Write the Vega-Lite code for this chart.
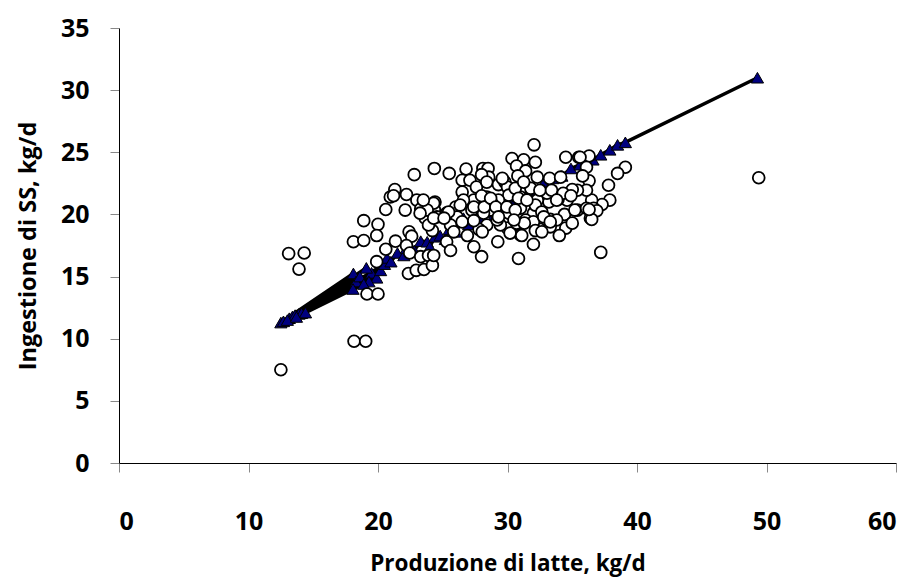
{
  "$schema": "https://vega.github.io/schema/vega-lite/v6.json",
  "width": 777,
  "height": 435,
  "autosize": "none",
  "padding": {"left": 119, "top": 28, "right": 19, "bottom": 118},
  "background": "white",
  "config": {
    "view": {"stroke": null},
    "axis": {"grid": false, "domainColor": "black", "domainWidth": 1, "tickColor": "#888888", "tickSize": 9, "labelFont": "Open Sans", "labelFontWeight": "bold", "labelFontSize": 25, "labelColor": "black", "titleFont": "Open Sans", "titleFontWeight": "bold", "titleColor": "black"}
  },
  "datasets": {
    "obs": [
      {"latte": 12.5, "ss": 7.5}, {"latte": 18.15, "ss": 9.8}, {"latte": 19.05, "ss": 9.8},
      {"latte": 13.1, "ss": 16.85}, {"latte": 14.3, "ss": 16.9}, {"latte": 13.9, "ss": 15.6},
      {"latte": 18.1, "ss": 17.8}, {"latte": 18.9, "ss": 17.9}, {"latte": 18.9, "ss": 19.5},
      {"latte": 20.0, "ss": 19.2}, {"latte": 19.9, "ss": 18.3}, {"latte": 20.6, "ss": 20.4},
      {"latte": 20.95, "ss": 21.4}, {"latte": 20.6, "ss": 17.2}, {"latte": 19.9, "ss": 16.2},
      {"latte": 19.15, "ss": 13.6}, {"latte": 20.0, "ss": 13.6}, {"latte": 21.3, "ss": 22.0},
      {"latte": 22.2, "ss": 21.6}, {"latte": 21.2, "ss": 21.5}, {"latte": 22.8, "ss": 23.2},
      {"latte": 24.35, "ss": 23.7}, {"latte": 23.0, "ss": 21.15}, {"latte": 22.1, "ss": 20.35},
      {"latte": 23.3, "ss": 20.45}, {"latte": 24.4, "ss": 21.0}, {"latte": 24.35, "ss": 20.4},
      {"latte": 23.9, "ss": 19.7}, {"latte": 22.4, "ss": 18.6}, {"latte": 22.6, "ss": 18.25},
      {"latte": 21.35, "ss": 17.85}, {"latte": 22.2, "ss": 17.5}, {"latte": 22.45, "ss": 16.9},
      {"latte": 23.3, "ss": 16.6}, {"latte": 23.9, "ss": 16.7}, {"latte": 22.35, "ss": 15.25},
      {"latte": 22.95, "ss": 15.5}, {"latte": 23.55, "ss": 15.57}, {"latte": 24.2, "ss": 15.9},
      {"latte": 24.2, "ss": 18.7}, {"latte": 24.3, "ss": 16.7}, {"latte": 23.65, "ss": 19.7},
      {"latte": 24.3, "ss": 20.9}, {"latte": 23.8, "ss": 20.35}, {"latte": 23.5, "ss": 21.15},
      {"latte": 23.9, "ss": 19.15}, {"latte": 25.5, "ss": 23.3}, {"latte": 26.8, "ss": 23.65},
      {"latte": 28.1, "ss": 23.7}, {"latte": 28.5, "ss": 23.7}, {"latte": 28.55, "ss": 23.0},
      {"latte": 28.0, "ss": 23.2}, {"latte": 26.5, "ss": 22.75}, {"latte": 27.1, "ss": 22.75},
      {"latte": 26.5, "ss": 21.8}, {"latte": 27.6, "ss": 22.2}, {"latte": 28.4, "ss": 22.6},
      {"latte": 29.3, "ss": 22.4}, {"latte": 29.8, "ss": 22.6}, {"latte": 30.0, "ss": 22.2},
      {"latte": 30.35, "ss": 24.5}, {"latte": 31.25, "ss": 24.4}, {"latte": 32.05, "ss": 25.6},
      {"latte": 32.15, "ss": 24.2}, {"latte": 30.7, "ss": 23.9}, {"latte": 31.4, "ss": 23.5},
      {"latte": 30.8, "ss": 23.1}, {"latte": 32.3, "ss": 23.0}, {"latte": 33.25, "ss": 22.9},
      {"latte": 34.1, "ss": 23.0}, {"latte": 34.5, "ss": 24.6}, {"latte": 35.5, "ss": 24.6},
      {"latte": 36.3, "ss": 24.7}, {"latte": 36.1, "ss": 23.8}, {"latte": 36.3, "ss": 22.7},
      {"latte": 37.8, "ss": 22.35}, {"latte": 37.9, "ss": 21.15}, {"latte": 37.3, "ss": 20.8},
      {"latte": 36.5, "ss": 21.15}, {"latte": 36.1, "ss": 21.95}, {"latte": 35.4, "ss": 21.95},
      {"latte": 35.0, "ss": 22.0}, {"latte": 34.6, "ss": 21.15}, {"latte": 33.9, "ss": 21.2},
      {"latte": 33.2, "ss": 21.0}, {"latte": 33.05, "ss": 21.7}, {"latte": 32.3, "ss": 21.15},
      {"latte": 32.0, "ss": 20.1}, {"latte": 33.3, "ss": 19.6}, {"latte": 32.5, "ss": 18.8},
      {"latte": 34.4, "ss": 20.0}, {"latte": 35.4, "ss": 20.35}, {"latte": 36.4, "ss": 19.7},
      {"latte": 36.1, "ss": 20.5}, {"latte": 31.0, "ss": 21.4}, {"latte": 31.0, "ss": 20.5},
      {"latte": 31.4, "ss": 19.55}, {"latte": 30.9, "ss": 19.15}, {"latte": 31.0, "ss": 18.35},
      {"latte": 32.0, "ss": 17.6}, {"latte": 30.85, "ss": 16.45}, {"latte": 30.0, "ss": 18.9},
      {"latte": 29.45, "ss": 19.15}, {"latte": 30.1, "ss": 20.1}, {"latte": 30.1, "ss": 21.55},
      {"latte": 29.3, "ss": 21.15}, {"latte": 28.8, "ss": 20.9}, {"latte": 28.4, "ss": 21.4},
      {"latte": 28.7, "ss": 20.35}, {"latte": 28.15, "ss": 20.1}, {"latte": 28.4, "ss": 19.15},
      {"latte": 27.8, "ss": 18.8}, {"latte": 28.05, "ss": 18.6}, {"latte": 29.25, "ss": 17.8},
      {"latte": 27.4, "ss": 17.4}, {"latte": 28.0, "ss": 16.6}, {"latte": 27.25, "ss": 20.35},
      {"latte": 27.4, "ss": 21.15}, {"latte": 26.6, "ss": 21.15}, {"latte": 26.0, "ss": 20.6},
      {"latte": 25.3, "ss": 20.1}, {"latte": 26.1, "ss": 19.8}, {"latte": 25.6, "ss": 19.15},
      {"latte": 25.85, "ss": 18.6}, {"latte": 25.3, "ss": 17.8}, {"latte": 25.6, "ss": 17.1},
      {"latte": 29.2, "ss": 19.55}, {"latte": 30.2, "ss": 18.5}, {"latte": 37.2, "ss": 16.95},
      {"latte": 31.8, "ss": 22.1}, {"latte": 32.5, "ss": 21.95}, {"latte": 33.4, "ss": 21.95},
      {"latte": 39.1, "ss": 23.8}, {"latte": 38.5, "ss": 23.3}, {"latte": 36.65, "ss": 20.5},
      {"latte": 36.9, "ss": 20.3}, {"latte": 36.5, "ss": 19.6}, {"latte": 34.3, "ss": 21.7},
      {"latte": 33.8, "ss": 21.15}, {"latte": 35.2, "ss": 20.35}, {"latte": 33.8, "ss": 19.55},
      {"latte": 32.15, "ss": 20.75}, {"latte": 32.65, "ss": 20.2}, {"latte": 30.6, "ss": 22.1},
      {"latte": 31.25, "ss": 22.6}, {"latte": 30.85, "ss": 21.3}, {"latte": 31.5, "ss": 21.15},
      {"latte": 32.0, "ss": 19.4}, {"latte": 32.8, "ss": 19.8}, {"latte": 33.3, "ss": 19.0},
      {"latte": 31.1, "ss": 18.3}, {"latte": 32.15, "ss": 18.7}, {"latte": 32.65, "ss": 18.6},
      {"latte": 30.7, "ss": 19.3}, {"latte": 31.3, "ss": 19.3}, {"latte": 33.3, "ss": 19.4},
      {"latte": 49.4, "ss": 22.95}, {"latte": 36.3, "ss": 20.4}, {"latte": 35.6, "ss": 24.6},
      {"latte": 23.25, "ss": 20.1}, {"latte": 24.55, "ss": 19.8}, {"latte": 25.45, "ss": 20.2},
      {"latte": 26.35, "ss": 20.75}, {"latte": 27.4, "ss": 20.6}, {"latte": 28.2, "ss": 20.6},
      {"latte": 28.0, "ss": 21.5}, {"latte": 28.7, "ss": 21.3}, {"latte": 29.1, "ss": 20.6},
      {"latte": 29.95, "ss": 20.6}, {"latte": 30.6, "ss": 20.35}, {"latte": 24.3, "ss": 19.7},
      {"latte": 25.1, "ss": 19.7}, {"latte": 26.5, "ss": 19.4}, {"latte": 27.4, "ss": 19.5},
      {"latte": 29.3, "ss": 19.8}, {"latte": 30.5, "ss": 19.55}, {"latte": 34.5, "ss": 18.9},
      {"latte": 35.0, "ss": 19.3}, {"latte": 34.0, "ss": 18.3}, {"latte": 26.9, "ss": 18.3},
      {"latte": 29.6, "ss": 22.9}, {"latte": 35.8, "ss": 23.1}, {"latte": 34.9, "ss": 21.5}
    ],
    "pred": [
      {"ord": 1, "latte": 12.5, "ss": 11.3}, {"ord": 2, "latte": 18.1, "ss": 15.25},
      {"ord": 3, "latte": 12.7, "ss": 11.4}, {"ord": 4, "latte": 19.5, "ss": 15.3},
      {"ord": 5, "latte": 13.15, "ss": 11.65}, {"ord": 6, "latte": 19.9, "ss": 14.9},
      {"ord": 7, "latte": 13.4, "ss": 11.8}, {"ord": 8, "latte": 18.3, "ss": 14.6},
      {"ord": 9, "latte": 13.6, "ss": 11.9}, {"ord": 10, "latte": 20.2, "ss": 15.5},
      {"ord": 11, "latte": 13.9, "ss": 12.0}, {"ord": 12, "latte": 18.07, "ss": 14.0},
      {"ord": 13, "latte": 14.1, "ss": 12.05}, {"ord": 14, "latte": 19.3, "ss": 14.6},
      {"ord": 15, "latte": 14.4, "ss": 12.1}, {"ord": 16, "latte": 19.1, "ss": 15.7},
      {"ord": 17, "latte": 13.0, "ss": 11.5}, {"ord": 18, "latte": 18.6, "ss": 15.0},
      {"ord": 19, "latte": 13.7, "ss": 11.75}, {"ord": 20, "latte": 20.5, "ss": 16.0},
      {"ord": 21, "latte": 18.9, "ss": 14.4}, {"ord": 22, "latte": 20.7, "ss": 16.5},
      {"ord": 23, "latte": 21.0, "ss": 16.2}, {"ord": 24, "latte": 21.5, "ss": 16.9},
      {"ord": 25, "latte": 22.0, "ss": 16.7}, {"ord": 26, "latte": 22.2, "ss": 17.3},
      {"ord": 27, "latte": 22.8, "ss": 17.1}, {"ord": 28, "latte": 23.3, "ss": 17.85},
      {"ord": 29, "latte": 23.8, "ss": 17.8}, {"ord": 30, "latte": 24.0, "ss": 17.4},
      {"ord": 31, "latte": 24.4, "ss": 18.2}, {"ord": 32, "latte": 24.8, "ss": 18.3},
      {"ord": 33, "latte": 25.2, "ss": 18.0}, {"ord": 34, "latte": 25.5, "ss": 18.8},
      {"ord": 35, "latte": 26.0, "ss": 18.6}, {"ord": 36, "latte": 26.6, "ss": 19.7},
      {"ord": 37, "latte": 27.0, "ss": 19.2}, {"ord": 38, "latte": 27.4, "ss": 19.8},
      {"ord": 39, "latte": 28.0, "ss": 19.6}, {"ord": 40, "latte": 28.5, "ss": 20.2},
      {"ord": 41, "latte": 29.0, "ss": 20.0}, {"ord": 42, "latte": 29.7, "ss": 20.35},
      {"ord": 43, "latte": 30.2, "ss": 20.9}, {"ord": 44, "latte": 30.6, "ss": 21.0},
      {"ord": 45, "latte": 31.2, "ss": 21.3}, {"ord": 46, "latte": 31.8, "ss": 22.2},
      {"ord": 47, "latte": 32.3, "ss": 21.9}, {"ord": 48, "latte": 32.8, "ss": 22.5},
      {"ord": 49, "latte": 33.5, "ss": 22.9}, {"ord": 50, "latte": 34.2, "ss": 23.1},
      {"ord": 51, "latte": 34.9, "ss": 23.7}, {"ord": 52, "latte": 35.6, "ss": 24.0},
      {"ord": 53, "latte": 36.6, "ss": 24.4}, {"ord": 54, "latte": 37.2, "ss": 24.8},
      {"ord": 55, "latte": 37.9, "ss": 25.2}, {"ord": 56, "latte": 38.5, "ss": 25.6},
      {"ord": 57, "latte": 39.1, "ss": 25.8}, {"ord": 58, "latte": 49.3, "ss": 31.0}
    ]
  },
  "layer": [
    {
      "data": {"name": "pred"},
      "mark": {"type": "line", "color": "black", "strokeWidth": 3.5},
      "encoding": {
        "x": {"field": "latte", "type": "quantitative", "scale": {"domain": [0, 60], "nice": false, "zero": false},
              "axis": {"values": [0, 10, 20, 30, 40, 50, 60], "title": "Produzione di latte, kg/d", "titleFontSize": 22.5, "labelPadding": 37, "titlePadding": 18}},
        "y": {"field": "ss", "type": "quantitative", "scale": {"domain": [0, 35], "nice": false, "zero": false},
              "axis": {"values": [0, 5, 10, 15, 20, 25, 30, 35], "title": "Ingestione di SS, kg/d", "titleFontSize": 23.5, "labelPadding": 21, "titlePadding": 20}},
        "order": {"field": "ord", "type": "quantitative"}
      }
    },
    {
      "data": {"name": "pred"},
      "mark": {"type": "point", "shape": "triangle-up", "filled": true, "fill": "#000080", "stroke": "black", "strokeWidth": 1, "size": 150, "opacity": 1},
      "encoding": {
        "x": {"field": "latte", "type": "quantitative"},
        "y": {"field": "ss", "type": "quantitative"}
      }
    },
    {
      "data": {"name": "obs"},
      "mark": {"type": "point", "shape": "circle", "filled": true, "fill": "white", "stroke": "black", "strokeWidth": 1.8, "size": 140, "opacity": 1},
      "encoding": {
        "x": {"field": "latte", "type": "quantitative"},
        "y": {"field": "ss", "type": "quantitative"}
      }
    }
  ]
}
